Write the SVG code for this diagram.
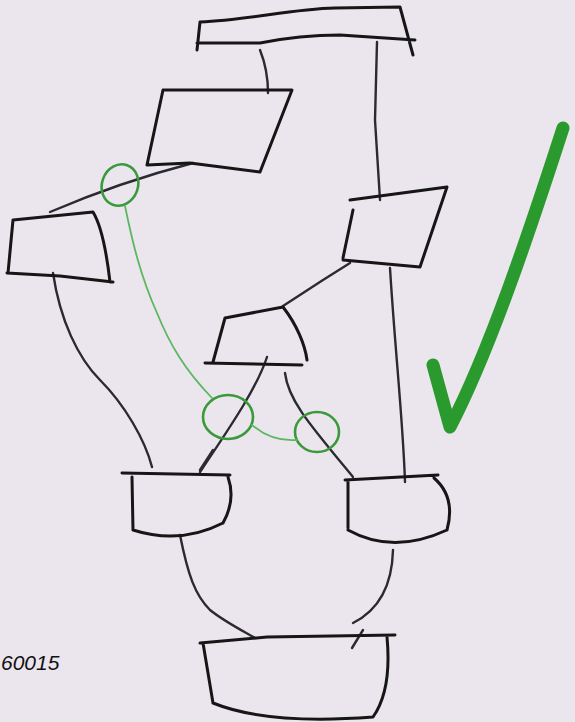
<svg xmlns="http://www.w3.org/2000/svg" width="575" height="722" viewBox="0 0 575 722">
  <style>
    .ink { fill: none; stroke: #161616; stroke-width: 3; stroke-linecap: round; stroke-linejoin: round; }
    .wire { fill: none; stroke: #2a2a30; stroke-width: 2.4; stroke-linecap: round; stroke-linejoin: round; }
    .gmark { fill: none; stroke: #3a9a3a; stroke-width: 2.6; stroke-linecap: round; }
    .gline { fill: none; stroke: #5cb860; stroke-width: 1.8; stroke-linecap: round; }
    .label { font-family: "Liberation Sans", Arial, sans-serif; font-style: italic; font-size: 21px; fill: #111; }
  </style>
  <rect width="575" height="722" fill="#ebe6ee"/>

  <g id="connectors">
    <path class="wire" d="M260,50 Q268,70 268,93"/>
    <path class="wire" d="M377,42 L375,120 L380,200"/>
    <path class="wire" d="M193,163 Q120,182 50,212"/>
    <path class="wire" d="M350,263 L323,280 L283,306"/>
    <path class="wire" d="M390,268 C395,350 403,420 405,482"/>
    <path class="wire" d="M53,273 C60,320 78,358 100,380 C125,405 145,440 152,467"/>
    <path class="wire" d="M267,357 C258,385 235,420 200,472 M200,470 L213,450"/>
    <path class="wire" d="M285,373 C288,400 310,425 353,477"/>
    <path class="wire" d="M180,535 C188,575 195,595 210,610 C225,622 245,632 255,638"/>
    <path class="wire" d="M393,550 C392,590 375,612 353,623 M363,630 L352,648"/>
  </g>

  <g id="node-top">
    <path class="ink" d="M197,50 L200,22 C250,20 290,9 335,8 L400,7 L413,55 M197,43 L260,43 C290,37 310,35 340,35 L415,40"/>
  </g>
  <g id="node-upper-left">
    <path class="ink" d="M163,90 L292,90 L260,172 M147,165 L190,163 L260,172 M163,90 L147,165"/>
  </g>
  <g id="node-left">
    <path class="ink" d="M13,220 L93,212 Q104,230 110,282 M7,273 L60,276 L113,282 M13,220 L8,273"/>
  </g>
  <g id="node-right">
    <path class="ink" d="M350,200 L447,187 L420,267 M343,260 L420,267 M353,210 L343,258"/>
  </g>
  <g id="node-middle">
    <path class="ink" d="M225,318 L283,307 C297,325 305,345 307,360 M205,363 L302,365 M225,318 L213,362"/>
  </g>
  <g id="node-lower-left">
    <path class="ink" d="M122,473 L230,475 M132,477 L133,530 M133,530 Q180,545 223,523 M228,477 Q236,500 223,523"/>
  </g>
  <g id="node-lower-right">
    <path class="ink" d="M345,480 L438,475 M348,480 L348,528 M348,530 Q393,555 447,530 M434,478 Q456,497 447,530"/>
  </g>
  <g id="node-bottom">
    <path class="ink" d="M200,643 L267,637 L395,635 M203,643 L213,703 M213,703 Q267,725 373,717 M387,637 Q392,690 373,717"/>
  </g>

  <g id="annotations">
    <ellipse class="gmark" cx="120" cy="185" rx="18" ry="21" transform="rotate(20 120 185)"/>
    <ellipse class="gmark" cx="228" cy="417" rx="25" ry="22"/>
    <ellipse class="gmark" cx="317" cy="432" rx="22" ry="20"/>
    <path class="gline" d="M125,206 C132,240 140,275 157,313 C170,345 185,370 212,398"/>
    <path class="gline" d="M252,425 Q272,442 297,440"/>
    <path d="M433,365 L450,427 C490,350 530,230 563,128" fill="none" stroke="#2b9a2e" stroke-width="13" stroke-linecap="round" stroke-linejoin="round"/>
  </g>

  <text class="label" x="1" y="670">60015</text>
</svg>
